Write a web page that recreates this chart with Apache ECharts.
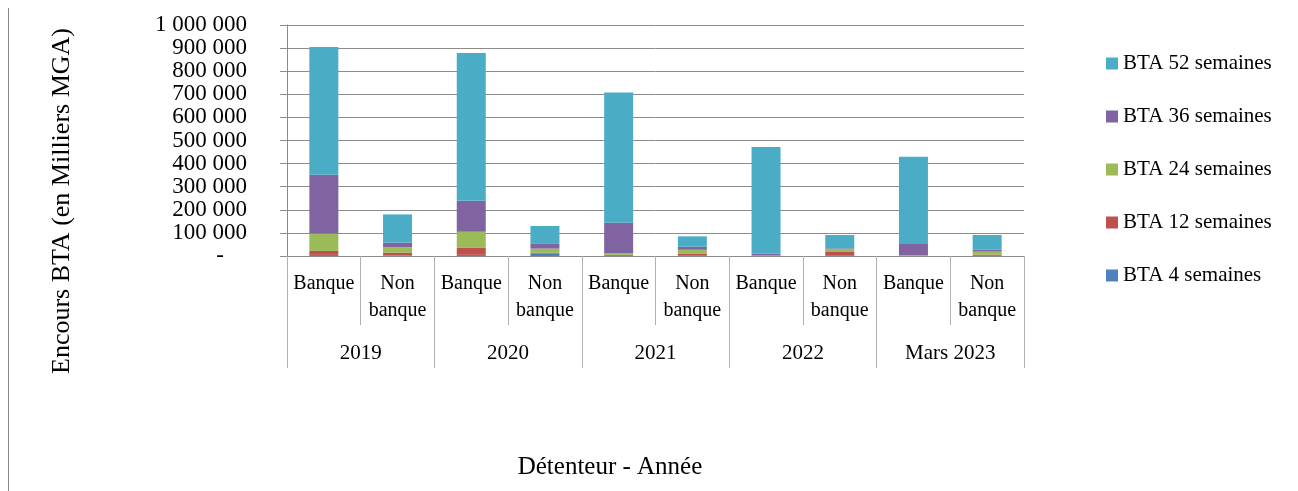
<!DOCTYPE html>
<html>
<head>
<meta charset="utf-8">
<script src="https://cdn.jsdelivr.net/npm/echarts@6/dist/echarts.min.js"></script>
<style>
  html, body { margin: 0; padding: 0; background: #fff; }
  #chart { width: 1298px; height: 491px; }
</style>
</head>
<body>
<div id="chart"></div>
<script>
var categories = ['Banque', 'Non\nbanque', 'Banque', 'Non\nbanque', 'Banque', 'Non\nbanque', 'Banque', 'Non\nbanque', 'Banque', 'Non\nbanque'];
var years = ['2019', '2020', '2021', '2022', 'Mars 2023'];

var bta4 = [5000, 2000, 5000, 12000, 1000, 1000, 0, 1000, 1000, 1000];
var bta12 = [17000, 12000, 30000, 2000, 4000, 10000, 1000, 19000, 1000, 5000];
var bta24 = [75000, 24000, 70000, 18000, 6000, 16000, 1000, 10000, 1000, 13000];
var bta36 = [255000, 20000, 134000, 23000, 133000, 13000, 9000, 3000, 49000, 8000];
var bta52 = [553000, 122000, 640000, 75000, 564000, 45000, 461000, 58000, 378000, 64000];

var font = 'Liberation Serif';

function fmt(v) {
    if (v === 0) return '-    ';
    return String(v).replace(/\B(?=(\d{3})+(?!\d))/g, ' ');
}

function bar(name, data, color) {
    return {
        name: name,
        type: 'bar',
        stack: 'total',
        barWidth: 29,
        data: data,
        itemStyle: {color: color}
    };
}

var myChart = echarts.init(document.getElementById('chart'));
myChart.setOption({
    animation: false,
    textStyle: {fontFamily: font, color: '#000'},
    grid: {left: 287, right: 274, top: 25, bottom: 235},
    legend: {
        orient: 'vertical',
        left: 1106,
        top: 53,
        padding: 0,
        itemWidth: 12,
        itemHeight: 12,
        itemGap: 32,
        icon: 'rect',
        textStyle: {fontFamily: font, fontSize: 21, color: '#000'},
        data: ['BTA 52 semaines', 'BTA 36 semaines', 'BTA 24 semaines', 'BTA 12 semaines', 'BTA 4 semaines']
    },
    xAxis: [
        {
            type: 'category',
            data: categories,
            axisLine: {lineStyle: {color: '#8c8c8c'}},
            axisTick: {show: true, interval: 0, length: 69, lineStyle: {color: '#b0b0b0'}},
            axisLabel: {interval: 0, margin: 14, fontSize: 20, lineHeight: 27, color: '#000', fontFamily: font}
        },
        {
            type: 'category',
            position: 'bottom',
            data: years,
            axisLine: {show: false},
            axisTick: {show: true, interval: 0, length: 112, lineStyle: {color: '#b0b0b0'}},
            axisLabel: {interval: 0, margin: 84, fontSize: 21, lineHeight: 27, color: '#000', fontFamily: font}
        }
    ],
    yAxis: {
        type: 'value',
        min: 0,
        max: 1000000,
        interval: 100000,
        axisLine: {show: true, lineStyle: {color: '#8c8c8c'}},
        axisTick: {show: true, length: 7, lineStyle: {color: '#8c8c8c'}},
        splitLine: {lineStyle: {color: '#8c8c8c'}},
        axisLabel: {
            margin: 40, fontSize: 23, color: '#000', fontFamily: font, formatter: fmt,
            showMinLabel: true, showMaxLabel: true, hideOverlap: false
        }
    },
    graphic: [
        {
            type: 'line',
            shape: {x1: 8.5, y1: 8, x2: 8.5, y2: 491},
            style: {stroke: '#8c8c8c', lineWidth: 1}
        },
        {
            type: 'text',
            x: 62,
            y: 201,
            rotation: Math.PI / 2,
            style: {text: 'Encours BTA (en Milliers MGA)', font: '26px "Liberation Serif"', fill: '#000', align: 'center', verticalAlign: 'middle'}
        },
        {
            type: 'text',
            x: 610,
            y: 467,
            style: {text: 'Détenteur - Année', font: '25px "Liberation Serif"', fill: '#000', align: 'center', verticalAlign: 'middle'}
        }
    ],
    series: [
        bar('BTA 4 semaines', bta4, '#4F81BD'),
        bar('BTA 12 semaines', bta12, '#C0504D'),
        bar('BTA 24 semaines', bta24, '#9BBB59'),
        bar('BTA 36 semaines', bta36, '#8064A2'),
        bar('BTA 52 semaines', bta52, '#4BACC6')
    ]
});
</script>
</body>
</html>
